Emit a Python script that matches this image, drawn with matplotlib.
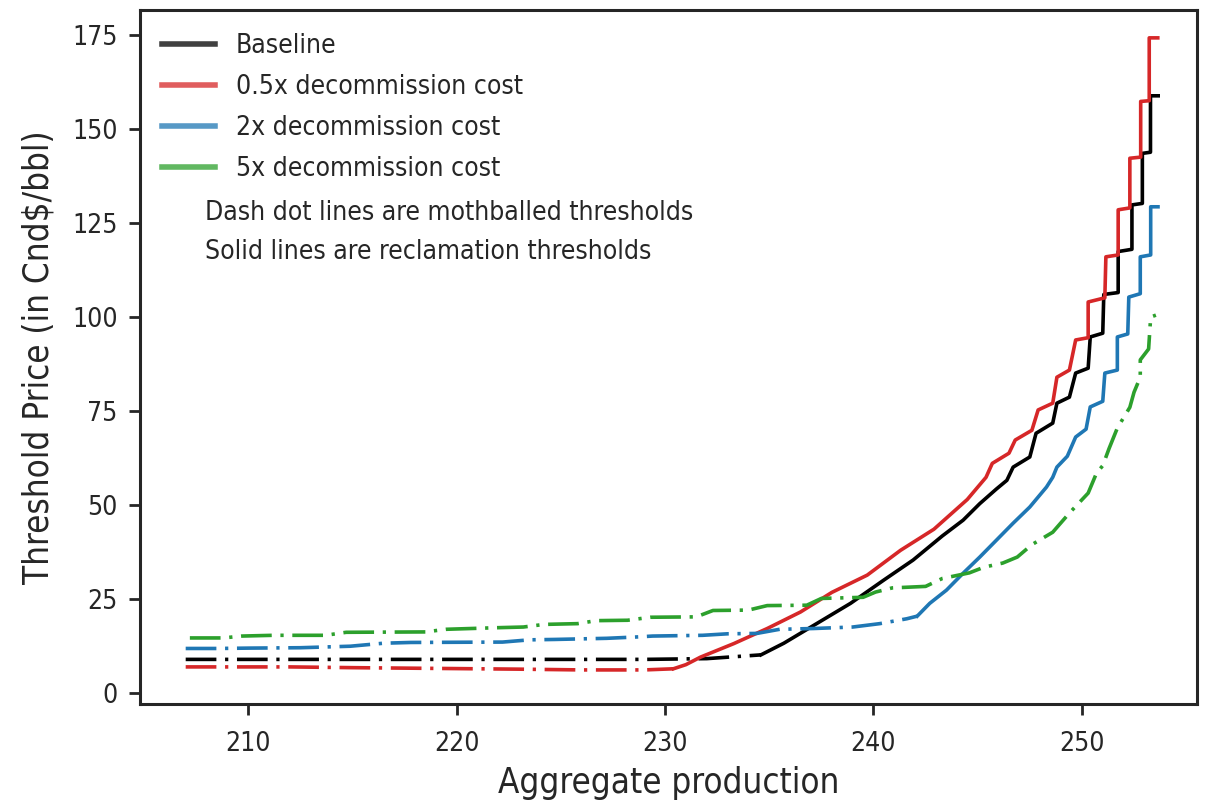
import numpy as np
import matplotlib
matplotlib.use("Agg")
import matplotlib.pyplot as plt
from matplotlib.lines import Line2D

# ---------------------------------------------
# Data
# ---------------------------------------------
# Baseline
base_moth_x = [207.0, 212.0, 218.0, 224.0, 229.0, 232.0, 234.6]
base_moth_y = [9.0, 9.0, 9.0, 9.0, 9.0, 9.2, 10.2]
base_recl_x = [234.6, 235.7, 237.3, 238.9, 240.5, 241.9, 243.3, 244.3, 245.1, 245.9,
               246.4, 246.7, 247.5, 247.8, 248.6, 248.8, 249.4, 249.7, 250.3, 250.4,
               251.0, 251.05, 251.74, 251.74, 252.4, 252.4, 252.9, 252.9, 253.29, 253.29,
               253.66]
base_recl_y = [10.2, 13.3, 18.6, 23.9, 30.1, 35.4, 41.8, 46.0, 50.4, 54.3,
               56.6, 60.1, 62.8, 69.1, 71.8, 77.1, 78.7, 85.1, 86.4, 94.7,
               95.7, 106.0, 106.5, 117.4, 118.0, 129.8, 130.2, 143.5, 143.8, 158.8,
               158.8]

# 0.5x decommission cost
half_moth_x = [207.0, 212.0, 215.0, 219.0, 223.0, 226.0, 229.0, 230.4]
half_moth_y = [7.0, 7.0, 6.8, 6.6, 6.4, 6.2, 6.2, 6.5]
half_recl_x = [230.4, 231.0, 231.7, 233.3, 234.9, 236.5, 238.0, 239.7, 241.3, 242.9,
               244.5, 245.4, 245.7, 246.5, 246.8, 247.6, 247.9, 248.6, 248.8, 249.4,
               249.7, 250.3, 250.3, 251.1, 251.15, 251.74, 251.74, 252.3, 252.3, 252.82,
               252.82, 253.23, 253.23, 253.64]
half_recl_y = [6.5, 7.6, 9.6, 13.2, 17.2, 21.6, 26.8, 31.4, 38.0, 43.6,
               51.5, 57.4, 61.1, 63.8, 67.3, 69.9, 75.3, 77.1, 84.0, 85.9,
               93.9, 94.5, 104.0, 105.1, 116.0, 116.5, 128.5, 129.0, 142.2, 142.5,
               157.3, 157.5, 174.2, 174.2]

# 2x decommission cost
two_moth_x = [207.0, 208.5, 210.1, 212.5, 214.9, 216.5, 217.8, 222.2, 223.5, 224.7,
              227.2, 228.8, 229.4, 231.8, 233.0, 234.4, 235.5, 237.1, 239.0, 240.3,
              241.6, 242.1]
two_moth_y = [11.9, 11.9, 12.0, 12.1, 12.5, 13.3, 13.5, 13.6, 14.2, 14.3,
              14.6, 15.0, 15.2, 15.4, 15.8, 15.9, 17.0, 17.2, 17.6, 18.5,
              19.8, 20.5]
two_recl_x = [242.1, 242.7, 243.5, 244.3, 245.1, 245.9, 246.7, 247.5, 248.3, 248.6,
              248.8, 249.3, 249.7, 250.2, 250.4, 251.0, 251.1, 251.7, 251.7, 252.2,
              252.25, 252.8, 252.8, 253.3, 253.3, 253.65]
two_recl_y = [20.5, 23.9, 27.4, 31.9, 36.2, 40.7, 45.2, 49.5, 54.8, 57.4,
              60.1, 63.0, 68.1, 70.2, 76.1, 77.6, 85.1, 85.9, 94.7, 95.5,
              105.3, 106.2, 116.0, 116.5, 129.3, 129.3]

# 5x decommission cost (mothballed only)
five_moth_x = [207.2, 208.8, 209.7, 211.2, 213.7, 214.7, 218.5, 219.5, 221.8, 223.2,
               224.2, 225.8, 226.7, 228.2, 229.3, 231.5, 232.3, 234.0, 234.9, 236.8,
               237.5, 239.5, 240.1, 240.9, 242.5, 243.3, 244.6, 245.3, 246.2, 246.9,
               247.6, 248.6, 249.4, 250.3, 250.7, 251.0, 251.3, 251.7, 252.3, 252.5,
               252.8, 252.8, 253.2, 253.3, 253.55]
five_moth_y = [14.7, 14.7, 15.2, 15.4, 15.4, 16.2, 16.3, 17.0, 17.4, 17.6,
               18.3, 18.5, 19.3, 19.4, 20.2, 20.3, 22.0, 22.1, 23.3, 23.4,
               25.2, 25.5, 26.9, 28.0, 28.4, 30.5, 32.0, 33.5, 34.6, 36.2,
               39.5, 42.8, 47.9, 53.2, 58.5, 60.5, 65.0, 70.5, 76.0, 80.0,
               84.0, 88.6, 91.5, 100.0, 100.5]

labels = ['Baseline', '0.5x decommission cost', '2x decommission cost', '5x decommission cost']
colors = ['#000000', '#d62728', '#1f77b4', '#2ca02c']

# ---------------------------------------------
# Plot
# ---------------------------------------------
plt.rcParams['font.family'] = ['DejaVu Sans']
plt.rcParams['font.stretch'] = 'condensed'
text_color = '#262626'

fig = plt.figure(figsize=(12.16, 8.02), dpi=100)
ax = fig.add_axes([0.115, 0.122, 0.869, 0.8655])

lw = 2.6
dashdot = (0, (8.5, 2.4, 0.9, 2.4))

moth = [(base_moth_x, base_moth_y), (half_moth_x, half_moth_y),
        (two_moth_x, two_moth_y), (five_moth_x, five_moth_y)]
recl = [(base_recl_x, base_recl_y), (half_recl_x, half_recl_y),
        (two_recl_x, two_recl_y), None]

for i in range(4):
    mx, my = moth[i]
    ax.plot(mx, my, color=colors[i], linewidth=lw, linestyle=dashdot)
    if recl[i] is not None:
        rx, ry = recl[i]
        ax.plot(rx, ry, color=colors[i], linewidth=lw, linestyle='-')

handles = [Line2D([], [], color=c, linewidth=4, alpha=0.75) for c in colors]
ax.legend(handles, labels, loc='upper left', frameon=False, fontsize=19,
          labelcolor=text_color, handlelength=2.0, labelspacing=0.57,
          borderaxespad=0.0, bbox_to_anchor=(0.011, 0.982))

ax.text(0.0615, 0.7075, 'Dash dot lines are mothballed thresholds',
        transform=ax.transAxes, fontsize=19, color=text_color, va='center')
ax.text(0.0615, 0.651, 'Solid lines are reclamation thresholds',
        transform=ax.transAxes, fontsize=19, color=text_color, va='center')

ax.set_xlim(204.8, 255.5)
ax.set_ylim(-2.9, 181.6)
ax.set_yticks([0, 25, 50, 75, 100, 125, 150, 175])
ax.set_xticks([210, 220, 230, 240, 250])
ax.set_xlabel('Aggregate production', fontsize=25, color=text_color, labelpad=7)
ax.set_ylabel('Threshold Price (in Cnd$/bbl)', fontsize=25, color=text_color, labelpad=12)

for s in ax.spines.values():
    s.set_color('#262626')
    s.set_linewidth(2.2)
ax.tick_params(axis='both', labelsize=19, colors=text_color, length=8, width=2)
ax.tick_params(axis='x', pad=11)
ax.tick_params(axis='y', pad=8)

fig.savefig('out.png', dpi=100)
